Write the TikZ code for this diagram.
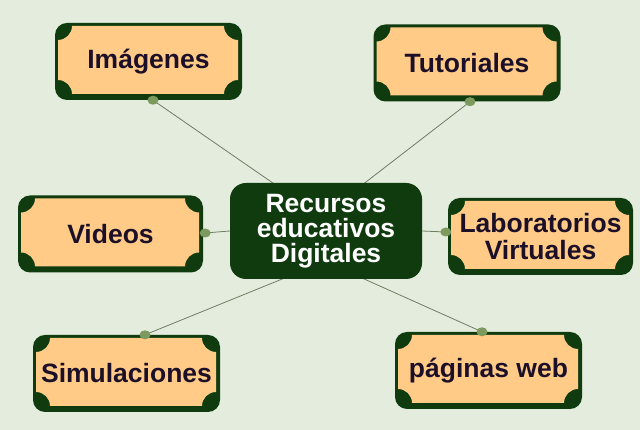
\documentclass[tikz,border=0pt]{standalone}
\usepackage{fontspec}
\setmainfont{Liberation Sans}
\usetikzlibrary{calc}
\definecolor{bgc}{HTML}{E3ECDD}
\definecolor{dkg}{HTML}{0F3B0F}
\definecolor{orf}{HTML}{FFCB87}
\definecolor{dotc}{HTML}{7D9A5E}
\definecolor{linec}{HTML}{6F7E62}
\definecolor{txt}{HTML}{1C0F28}
\pgfdeclarelayer{bg}
\pgfdeclarelayer{lines}
\pgfsetlayers{bg,lines,main}
\tikzset{
  plaque/.style={minimum width=187pt,minimum height=77pt,inner sep=0pt,
    fill=dkg,rounded corners=12pt,text=txt,
    font=\bfseries\fontsize{26.5}{27}\selectfont,align=center,
    path picture={
      \fill[orf,sharp corners] let \p1=(path picture bounding box.south west),
        \p2=(path picture bounding box.north east) in
        ({\x1+3pt},{\y1+20pt}) -- ({\x1+3pt},{\y2-17pt})
        arc[start angle=-90,end angle=0,radius=14pt]
        -- ({\x2-18pt},{\y2-3pt})
        arc[start angle=180,end angle=270,radius=14pt]
        -- ({\x2-4pt},{\y1+20pt})
        arc[start angle=90,end angle=180,radius=14pt]
        -- ({\x1+17pt},{\y1+6pt})
        arc[start angle=0,end angle=90,radius=14pt]
        -- cycle;}},
  hub/.style={minimum width=192pt,minimum height=96pt,inner sep=0pt,
    fill=dkg,rounded corners=16pt,text=white,
    font=\bfseries\fontsize{26.5}{25}\selectfont,align=center},
  conn/.style={draw=linec,line width=0.8pt},
  knob/.style={fill=dotc}
}
\begin{document}
\begin{tikzpicture}[x=1pt,y=1pt]
\begin{pgfonlayer}{bg}
\fill[bgc] (0,0) rectangle (640,430);
\end{pgfonlayer}
\useasboundingbox (0,0) rectangle (640,430);

\node[hub] (c) at (326,199) {Recursos\\educativos\\Digitales};
\node[plaque] (img) at (148.5,368.5) {Imágenes};
\node[plaque] (tut) at (467,367) {Tutoriales};
\node[plaque,minimum width=185pt] (vid) at (110.5,196) {Videos};
\node[plaque,minimum width=185pt] (lab) at (540.5,193.5) {Laboratorios\\Virtuales};
\node[plaque] (sim) at (126.5,56.5) {Simulaciones};
\node[plaque] (web) at (488.5,59.5) {páginas web};

\coordinate (d1) at ($(img.south)+(4.5,0)$);
\coordinate (d2) at ($(tut.south)+(3,0)$);
\coordinate (d3) at ($(vid.east)+(2,1)$);
\coordinate (d4) at ($(lab.west)+(-2,4.5)$);
\coordinate (d5) at ($(sim.north)+(18.5,0)$);
\coordinate (d6) at ($(web.north)+(-6.5,0)$);

\coordinate (e1) at (283,240);
\coordinate (e2) at (353,238);
\coordinate (e5) at (297,157);
\coordinate (e6) at (353,156);

\begin{pgfonlayer}{lines}
\draw[conn] (d1) -- (e1);
\draw[conn] (d2) -- (e2);
\draw[conn] (d3) -- (c.west);
\draw[conn] (d4) -- (c.east);
\draw[conn] (d5) -- (e5);
\draw[conn] (d6) -- (e6);
\end{pgfonlayer}

\foreach \d in {d1,d2,d3,d4,d5,d6}
  \fill[knob] (\d) ellipse[x radius=5.5pt,y radius=4.5pt];
\end{tikzpicture}
\end{document}
